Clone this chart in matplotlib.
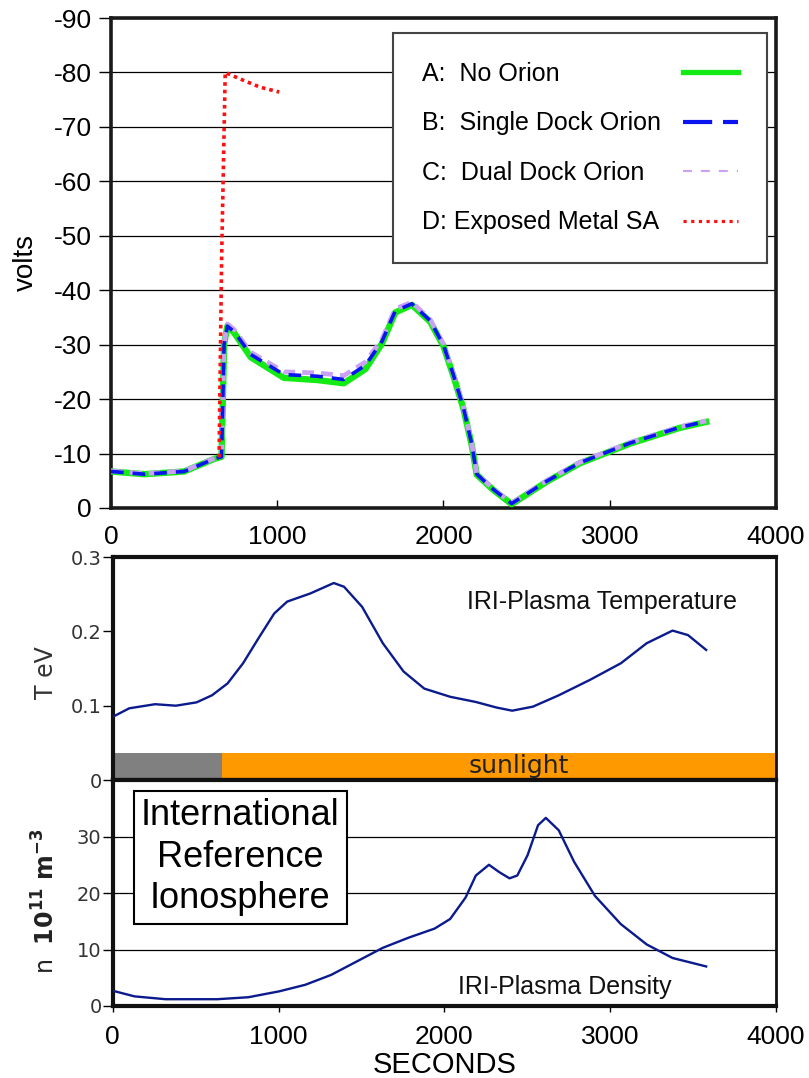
import matplotlib
matplotlib.use('Agg')
import matplotlib.pyplot as plt
from matplotlib.lines import Line2D
from matplotlib.ticker import FixedLocator

plt.rcParams['axes.unicode_minus'] = False
plt.rcParams['font.family'] = ['Liberation Sans', 'DejaVu Sans']
plt.rcParams['mathtext.fontset'] = 'dejavusans'

# ---------------- data ----------------
t_pot = [0, 200, 440, 620, 665, 680, 700, 740, 840, 1040, 1240, 1400, 1530, 1630,
         1710, 1810, 1920, 2000, 2060, 2120, 2170, 2200, 2300, 2410, 2620, 2820,
         3120, 3420, 3580]
v_no_orion = [-6.7, -6.2, -6.7, -9.0, -9.4, -30.0, -33.4, -32.2, -27.7, -23.9, -23.5,
              -22.9, -25.5, -30.2, -35.9, -37.3, -34.2, -29.7, -24.2, -18.2, -11.5,
              -6.1, -3.3, -0.7, -4.8, -8.2, -11.8, -14.7, -15.8]
v_single = [-6.7, -6.2, -6.7, -9.0, -9.4, -30.0, -33.4, -32.4, -28.2, -24.5, -24.2,
            -23.6, -26.2, -30.6, -36.2, -37.5, -34.4, -29.9, -24.4, -18.4, -11.7,
            -6.2, -3.4, -0.8, -4.9, -8.3, -11.9, -14.8, -15.9]
v_dual = [-6.8, -6.3, -6.8, -9.1, -9.5, -30.3, -33.8, -32.8, -28.6, -25.0, -24.8,
          -24.3, -26.8, -31.0, -36.6, -37.8, -34.6, -30.1, -24.6, -18.6, -11.8,
          -6.3, -3.5, -0.9, -5.0, -8.4, -12.0, -14.9, -16.0]
t_metal = [650, 665, 687, 777, 896, 1012]
v_metal = [-9.3, -45.0, -80.0, -78.8, -77.3, -76.4]
legend_labels = ['A:  No Orion', 'B:  Single Dock Orion', 'C:  Dual Dock Orion',
                 'D: Exposed Metal SA']

t_temp = [0, 100, 256, 381, 506, 599, 693, 786, 880, 974, 1052, 1192, 1333, 1395,
          1504, 1629, 1754, 1879, 2035, 2190, 2315, 2409, 2534, 2690, 2877, 3064,
          3220, 3376, 3469, 3579]
temp_ev = [0.085, 0.0965, 0.102, 0.100, 0.1045, 0.114, 0.130, 0.157, 0.191, 0.224,
           0.240, 0.251, 0.265, 0.260, 0.233, 0.184, 0.146, 0.123, 0.112, 0.105,
           0.0975, 0.0933, 0.0987, 0.114, 0.1346, 0.157, 0.184, 0.201, 0.195, 0.175]

t_dens = [0, 132, 319, 631, 818, 1005, 1161, 1317, 1473, 1629, 1785, 1941, 2035,
          2128, 2190, 2269, 2331, 2393, 2440, 2502, 2565, 2612, 2690, 2783, 2908,
          3064, 3220, 3376, 3579]
dens = [2.7, 1.7, 1.2, 1.2, 1.55, 2.6, 3.75, 5.5, 7.9, 10.3, 12.1, 13.7, 15.4, 19.2,
        23.1, 25.0, 23.7, 22.6, 23.1, 26.7, 32.0, 33.3, 31.1, 25.5, 19.5, 14.5,
        10.9, 8.5, 7.0]

eclipse_end = 660
orbit_end = 4000
sun_bar = (0.003, 0.036)

x_ticks = [0, 1000, 2000, 3000, 4000]
volt_ticks = [0, -10, -20, -30, -40, -50, -60, -70, -80, -90]
temp_ticks = [0, 0.1, 0.2, 0.3]
temp_ticklabels = ['0', '0.1', '0.2', '0.3']
temp_grid = [0.1]
dens_ticks = [0, 10, 20, 30]

# ---------------- figure ----------------
fig = plt.figure(figsize=(8.09, 10.78), dpi=100)
ax1 = fig.add_axes([0.1372, 0.5288, 0.822, 0.4545])
ax2 = fig.add_axes([0.1393, 0.2764, 0.8199, 0.2069])
ax3 = fig.add_axes([0.1393, 0.0668, 0.8199, 0.2096])

GREEN = '#14ea14'
BLUE = '#0a14ee'
PURPLE = '#c9a2f5'
RED = '#ff1010'
NAVY = '#0b1a8c'

# top panel
ax1.plot(t_pot, v_no_orion, color=GREEN, lw=4.6, zorder=3)
ax1.plot(t_pot, v_dual, color=PURPLE, lw=3.4, ls=(0, (2.5, 1.5)), zorder=4)
ax1.plot(t_pot, v_single, color=BLUE, lw=2.6, ls=(0, (3.5, 2.5)), zorder=5)
ax1.plot(t_metal, v_metal, color=RED, lw=2.6, ls=(0, (1, 1.1)), zorder=6)
ax1.set_xlim(0, 4000)
ax1.set_ylim(0, -90)
ax1.set_xticks(x_ticks)
ax1.set_yticks(volt_ticks)
ax1.tick_params(axis='x', direction='in', length=6, width=1, pad=12, labelsize=19)
ax1.tick_params(axis='y', direction='out', length=9, width=1, pad=5, labelsize=19)
ax1.grid(axis='y', color='black', lw=0.9)
ax1.set_axisbelow(True)
for s in ax1.spines.values():
    s.set_linewidth(2.6)
    s.set_color('#1a1a1a')
ax1.set_ylabel('volts', fontsize=20)
ax1.yaxis.set_label_coords(-0.108, 0.5)

handles = [Line2D([], [], color=GREEN, lw=3.8),
           Line2D([], [], color=BLUE, lw=3.0, ls=(0, (7, 2.6))),
           Line2D([], [], color=PURPLE, lw=1.5, ls=(0, (4.3, 4.3))),
           Line2D([], [], color=RED, lw=2.3, ls=(0, (1, 1.4)))]
leg = ax1.legend(handles, legend_labels, loc='upper left', bbox_to_anchor=(0.424, 0.969),
                 borderaxespad=0, markerfirst=False, fontsize=18, frameon=True,
                 fancybox=False, edgecolor='#444444', framealpha=1, borderpad=1.15,
                 labelspacing=1.02, handlelength=2.2, handletextpad=0.9)
leg.get_frame().set_linewidth(1.5)

# middle panel
ax2.plot(t_temp, temp_ev, color=NAVY, lw=1.7, zorder=3)
ax2.broken_barh([(0, eclipse_end)], (sun_bar[0], sun_bar[1] - sun_bar[0]),
                facecolor='#808080', edgecolor='none')
ax2.broken_barh([(eclipse_end, orbit_end - eclipse_end)], (sun_bar[0], sun_bar[1] - sun_bar[0]),
                facecolor='#ff9900', edgecolor='none')
ax2.text((eclipse_end + orbit_end) / 2 + 120, sum(sun_bar) / 2, 'sunlight', ha='center',
         va='center', fontsize=18, family='DejaVu Sans', color='#222222')
ax2.text(0.738, 0.80, 'IRI-Plasma Temperature', transform=ax2.transAxes, ha='center',
         va='center', fontsize=18, color='#111111')
ax2.set_xlim(0, 4000)
ax2.set_ylim(0, 0.3)
ax2.set_xticks([])
ax2.set_yticks(temp_ticks)
ax2.set_yticklabels(temp_ticklabels)
ax2.yaxis.set_minor_locator(FixedLocator(temp_grid))
ax2.grid(which='minor', axis='y', color='black', lw=0.9)
ax2.tick_params(axis='y', which='major', direction='out', length=7, width=1, pad=1,
                labelsize=14, labelcolor='#333333')
ax2.tick_params(axis='y', which='minor', length=0)
for lab in ax2.get_yticklabels():
    lab.set_family('DejaVu Sans')
for name, s in ax2.spines.items():
    s.set_linewidth(3.0 if name in ('top', 'bottom', 'left') else 2.0)
    s.set_color('#111111')
ax2.set_ylabel('T eV', fontsize=17, family='DejaVu Sans', color='#333333')
ax2.yaxis.set_label_coords(-0.083, 0.48)

# bottom panel
ax3.plot(t_dens, dens, color=NAVY, lw=1.7, zorder=3)
ax3.set_xlim(0, 4000)
ax3.set_ylim(0, 40)
ax3.set_xticks(x_ticks)
ax3.set_yticks(dens_ticks)
ax3.grid(axis='y', color='black', lw=0.9)
ax3.set_axisbelow(True)
ax3.tick_params(axis='x', direction='out', length=4, width=1, pad=10, labelsize=19)
ax3.tick_params(axis='y', direction='out', length=7, width=1, pad=1, labelsize=14,
                labelcolor='#333333')
for lab in ax3.get_yticklabels():
    lab.set_family('DejaVu Sans')
for name, s in ax3.spines.items():
    s.set_linewidth(3.0 if name in ('top', 'bottom', 'left') else 2.0)
    s.set_color('#111111')
ax3.set_xlabel('SECONDS', fontsize=21, labelpad=1)
ax3.set_ylabel(r'n  $\mathbf{10^{11}\ m^{-3}}$', fontsize=17, family='DejaVu Sans',
               color='#222222')
ax3.yaxis.set_label_coords(-0.08, 0.465)
ax3.text(0.192, 0.659, 'International\nReference\nIonosphere', transform=ax3.transAxes,
         ha='center', va='center', multialignment='center', fontsize=26,
         linespacing=1.25,
         bbox=dict(boxstyle='square,pad=0.2', fc='white', ec='black', lw=1.5), zorder=5)
ax3.text(0.682, 0.084, 'IRI-Plasma Density', transform=ax3.transAxes, ha='center',
         va='center', fontsize=18, color='#111111')

# align legend texts left with handles in a right column
try:
    fig.canvas.draw()
    r = fig.canvas.get_renderer()
    widths = [t.get_window_extent(r).width for t in leg.get_texts()]
    maxw = max(widths)
    rows = leg._legend_handle_box.get_children()[0].get_children()
    for row, w in zip(rows, widths):
        row.sep = row.sep + (maxw - w) * 72.0 / fig.dpi
except Exception:
    pass

fig.savefig('out.png', dpi=100)
